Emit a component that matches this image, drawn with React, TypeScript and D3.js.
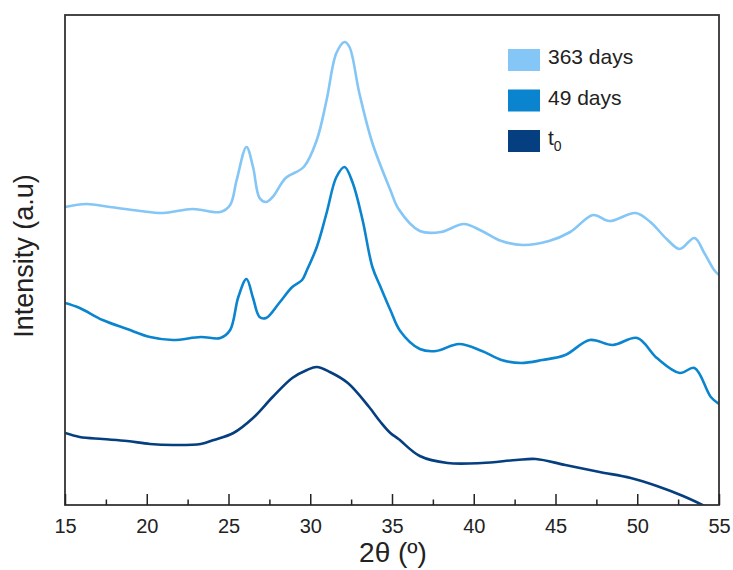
import React, { useEffect, useRef } from "react";
import * as d3 from "d3";

// 2θ positions (deg) and intensities (a.u., offset per curve)
const x363 = [15, 16.3, 17.75, 19.6, 21.0, 22.8, 24.5, 25.1, 25.5, 26.1, 26.5, 26.9, 27.3, 27.7, 28.5, 29.6, 30.4, 31.0, 31.6, 32.1, 32.4, 33.0, 33.8, 34.9, 35.4, 36.7, 38.0, 39.4, 40.5, 41.7, 43.0, 44.6, 45.9, 47.3, 48.3, 49.9, 50.8, 51.8, 52.6, 53.5, 54.1, 54.7, 55];
const y363 = [298, 301, 298, 294, 292, 296, 293, 300, 325, 358, 338, 307, 303, 308, 327, 338, 365, 405, 452, 463, 458, 412, 362, 315, 296, 274, 273, 281, 274, 264, 260, 264, 273, 290, 284, 292, 283, 266, 256, 267, 252, 235, 230];

const x49 = [15, 15.9, 17.3, 18.8, 20.2, 21.6, 23.3, 24.5, 25.1, 25.6, 26.1, 26.5, 26.9, 27.3, 28.1, 28.9, 29.5, 29.8, 30.4, 31.0, 31.6, 32.1, 32.6, 33.2, 33.8, 34.3, 34.9, 35.5, 36.7, 37.7, 39.1, 40.5, 41.7, 42.9, 44.2, 45.6, 47.1, 48.5, 50.0, 51.2, 52.6, 53.5, 54.5, 55];
const y49 = [202, 197, 185, 176, 168, 165, 168, 167, 175, 208, 226, 207, 188, 187, 202, 218, 225, 235, 258, 292, 328, 338, 322, 285, 238, 218, 195, 174, 156, 154, 161, 154, 145, 142, 145, 150, 165, 160, 167, 147, 132, 137, 108, 101];

const xT0 = [15, 15.9, 17.3, 18.8, 20.2, 21.6, 23.3, 24.1, 25.3, 26.5, 27.7, 28.9, 29.8, 30.4, 31.2, 32.3, 33.6, 34.3, 34.9, 35.4, 36.7, 38.4, 40.5, 42.6, 43.8, 45.6, 47.7, 49.6, 51.2, 52.8, 54.1, 54.4];
const yT0 = [72, 68, 66, 64, 61, 60, 61, 65, 72, 87, 108, 127, 135, 138, 133, 122, 98, 83, 72, 66, 49, 42, 42, 45, 46, 40, 33, 27, 19, 9, -1, -4];

const seriesNames = ["363 days", "49 days", "t0"];
const seriesColors = ["#84c6f6", "#0a84cf", "#053f80"];
const majorTicks = [15, 20, 25, 30, 35, 40, 45, 50, 55];
const minorTicks = [17.5, 22.5, 27.5, 32.5, 37.5, 42.5, 47.5, 52.5];

const W = 733, H = 570;
const m = { left: 65, right: 14, top: 15, bottom: 65 };

export default function App() {
  const axisRef = useRef<SVGGElement>(null);

  const x = d3.scaleLinear().domain([15, 55]).range([m.left, W - m.right]);
  const y = d3.scaleLinear().domain([0, 490]).range([H - m.bottom, m.top]);

  const line = d3.line<[number, number]>()
    .x(d => x(d[0]))
    .y(d => y(d[1]))
    .curve(d3.curveCatmullRom.alpha(0.5));

  const curves = [
    d3.zip(x363, y363) as [number, number][],
    d3.zip(x49, y49) as [number, number][],
    d3.zip(xT0, yT0) as [number, number][],
  ];

  useEffect(() => {
    const g = d3.select(axisRef.current);
    g.selectAll("*").remove();
    const major = g.append("g").call(
      d3.axisBottom(x).tickValues(majorTicks).tickSizeInner(-11).tickSizeOuter(0).tickPadding(14).tickFormat(d3.format("d"))
    );
    major.select(".domain").remove();
    major.selectAll("line").attr("stroke", "#222").attr("stroke-width", 1.5);
    major.selectAll("text")
      .attr("font-family", "Liberation Sans, Arial, sans-serif")
      .attr("font-size", 20)
      .attr("fill", "#222");
    const minor = g.append("g").call(
      d3.axisBottom(x).tickValues(minorTicks).tickSizeInner(-5.5).tickSizeOuter(0).tickFormat(() => "")
    );
    minor.select(".domain").remove();
    minor.selectAll("line").attr("stroke", "#222").attr("stroke-width", 1.5);
  }, []);

  const plotH = H - m.top - m.bottom;

  return (
    <svg width={W} height={H} style={{ position: "absolute", left: 0, top: 0, background: "#fff" }}>
      <defs>
        <clipPath id="plot">
          <rect x={m.left} y={m.top} width={W - m.left - m.right} height={plotH} />
        </clipPath>
      </defs>
      <g clipPath="url(#plot)">
        {curves.map((c, i) => (
          <path key={i} d={line(c) ?? ""} fill="none" stroke={seriesColors[i]}
            strokeWidth={2.6} strokeLinejoin="round" />
        ))}
      </g>
      <rect x={m.left} y={m.top} width={W - m.left - m.right} height={plotH}
        fill="none" stroke="#333" strokeWidth={1.8} />
      <g ref={axisRef} transform={`translate(0,${H - m.bottom})`} />

      {seriesNames.map((name, i) => (
        <g key={name} transform={`translate(508,${49 + i * 40.5})`}>
          <rect width={32} height={22} fill={seriesColors[i]} />
          <text x={40} y={15} fontFamily="Liberation Sans, Arial, sans-serif" fontSize={21} fill="#222">
            {name === "t0" ? (<>t<tspan fontSize={14} dy={6}>0</tspan></>) : name}
          </text>
        </g>
      ))}

      <text x={393} y={562} textAnchor="middle" fontFamily="Liberation Sans, Arial, sans-serif"
        fontSize={28} fill="#222">2θ (º)</text>
      <text transform="translate(33,256) rotate(-90)" textAnchor="middle"
        fontFamily="Liberation Sans, Arial, sans-serif" fontSize={27} fill="#222">Intensity (a.u)</text>
    </svg>
  );
}
